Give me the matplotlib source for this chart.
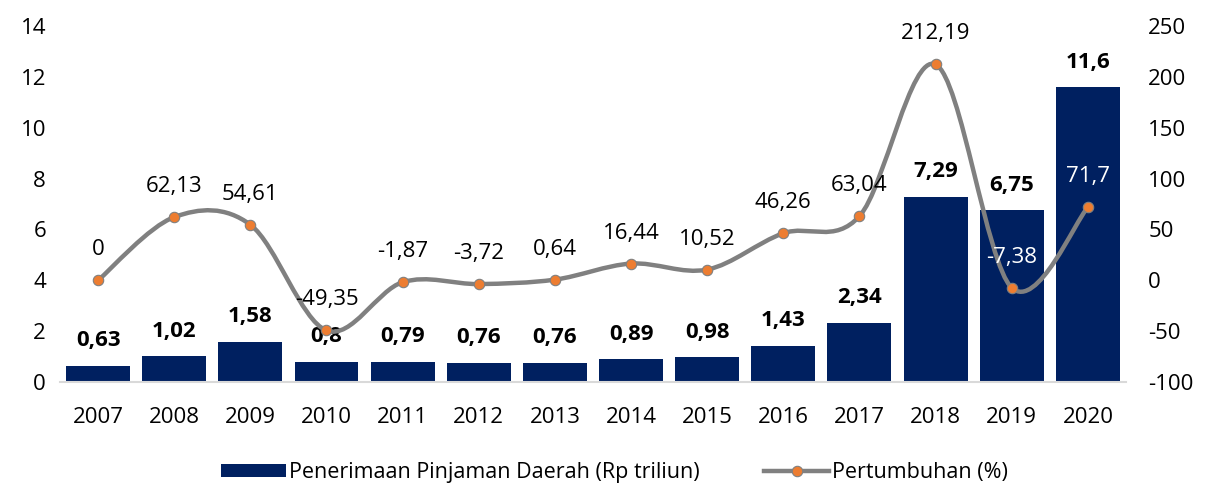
import numpy as np
import matplotlib
matplotlib.use("Agg")
import matplotlib.pyplot as plt
from matplotlib.path import Path
from matplotlib.patches import PathPatch
from matplotlib.lines import Line2D
from matplotlib.patches import Patch

plt.rcParams['font.family'] = ['Open Sans', 'DejaVu Sans']
plt.rcParams['axes.unicode_minus'] = False

years = ['2007', '2008', '2009', '2010', '2011', '2012', '2013',
         '2014', '2015', '2016', '2017', '2018', '2019', '2020']
pinjaman = [0.63, 1.02, 1.58, 0.8, 0.79, 0.76, 0.76,
            0.89, 0.98, 1.43, 2.34, 7.29, 6.75, 11.6]
pinjaman_labels = ['0,63', '1,02', '1,58', '0,8', '0,79', '0,76', '0,76',
                   '0,89', '0,98', '1,43', '2,34', '7,29', '6,75', '11,6']
pertumbuhan = [0, 62.13, 54.61, -49.35, -1.87, -3.72, 0.64,
               16.44, 10.52, 46.26, 63.04, 212.19, -7.38, 71.7]
pertumbuhan_labels = ['0', '62,13', '54,61', '-49,35', '-1,87', '-3,72', '0,64',
                      '16,44', '10,52', '46,26', '63,04', '212,19', '-7,38', '71,7']

BAR = '#002060'
LINE = '#808080'
DOT = '#ED7D31'
FS = 16

fig = plt.figure(figsize=(12.05, 4.87), dpi=100)
ax = fig.add_axes([0.0498, 0.2156, 0.8846, 0.731])
ax2 = ax.twinx()

x = np.arange(len(years))
ax.bar(x, pinjaman, width=0.84, color=BAR, zorder=2)
ax.set_xlim(-0.5, len(years) - 0.5)
ax.set_ylim(0, 14)
ax.set_yticks(range(0, 15, 2))
ax.set_xticks(x)
ax.set_xticklabels(years)
ax2.set_ylim(-100, 250)
ax2.set_yticks(range(-100, 251, 50))

for a in (ax, ax2):
    for s in a.spines.values():
        s.set_visible(False)
    a.tick_params(length=0, labelsize=FS, colors='black')
ax.spines['bottom'].set_visible(True)
ax.spines['bottom'].set_color('#d9d9d9')
ax.spines['bottom'].set_linewidth(1.5)
ax.tick_params(axis='x', pad=18)
ax.tick_params(axis='y', pad=10)
ax2.tick_params(axis='y', pad=16)

# smoothed line: cubic bezier segments with catmull-rom style control points
pts = np.column_stack([x, pertumbuhan]).astype(float)
verts = [pts[0]]
codes = [Path.MOVETO]
n = len(pts)
for i in range(n - 1):
    p0 = pts[max(i - 1, 0)]
    p1 = pts[i]
    p2 = pts[i + 1]
    p3 = pts[min(i + 2, n - 1)]
    c1 = p1 + (p2 - p0) / 6.0
    c2 = p2 - (p3 - p1) / 6.0
    verts += [c1, c2, p2]
    codes += [Path.CURVE4] * 3
curve = PathPatch(Path(verts, codes), facecolor='none', edgecolor=LINE,
                  lw=3.2, capstyle='round', zorder=3)
ax2.add_patch(curve)
ax2.plot(x, pertumbuhan, ls='none', marker='o', ms=7.5,
         mfc=DOT, mec=LINE, mew=0.8, zorder=4)

for xi, v, t in zip(x, pinjaman, pinjaman_labels):
    ax.annotate(t, (xi, v), xytext=(0, 18), textcoords='offset points',
                ha='center', va='center', fontsize=FS, fontweight='bold',
                zorder=5)

for xi, v, t in zip(x, pertumbuhan, pertumbuhan_labels):
    col = 'white' if years[xi] in ('2019', '2020') else 'black'
    ax2.annotate(t, (xi, v), xytext=(0, 22), textcoords='offset points',
                 ha='center', va='center', fontsize=FS, color=col, zorder=5)

handles = [Patch(facecolor=BAR, label='Penerimaan Pinjaman Daerah (Rp triliun)'),
           Line2D([], [], color=LINE, lw=3.2, marker='o', ms=7.5, mfc=DOT,
                  mec=LINE, mew=0.8, label='Pertumbuhan (%)')]
fig.legend(handles=handles, loc='center', bbox_to_anchor=(0.51, 0.03),
           ncol=2, frameon=False, fontsize=15.5, handlelength=3.0,
           handleheight=0.55, handletextpad=0.15, columnspacing=3.0)

fig.savefig('out.png', dpi=100)
